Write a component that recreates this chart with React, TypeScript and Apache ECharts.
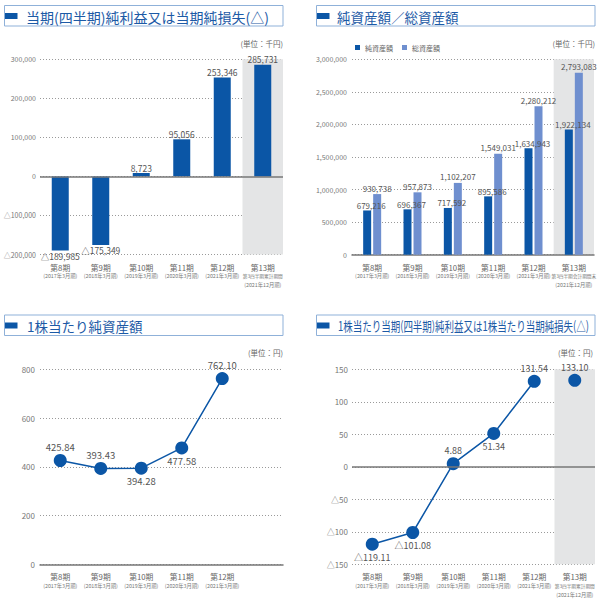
import React, { useEffect, useRef } from "react";
import * as echarts from "echarts";

// ---- data ----
const periods = ["第8期", "第9期", "第10期", "第11期", "第12期", "第13期"];
const fiscalYears = ["(2017年3月期)", "(2018年3月期)", "(2019年3月期)", "(2020年3月期)", "(2021年3月期)", "(2021年12月期)"];
const q3Cumulative = "第3四半期累計期間";
const q3PeriodEnd = "第3四半期会計期間末";

const netIncome = [-189985, -175349, 8723, 95056, 253346, 285731];
const netAssets = [679216, 696367, 717592, 895586, 1634943, 1922134];
const totalAssets = [930738, 957873, 1102207, 1549031, 2280212, 2793083];
const bookValuePerShare = [425.84, 393.43, 394.28, 477.58, 762.1];
const epsAnnual = [-119.11, -101.08, 4.88, 51.34, 131.54];
const epsQ3 = 133.1;

const bpsLabelPos = ["top", "top", "bottom", "bottom", "top"];
const epsLabelPos = ["bottom", "bottom", "top", "bottom", "top"];

// ---- style ----
const FONT = '"Noto Sans CJK JP", "Noto Sans", sans-serif';
const BLUE = "#0b56a6";
const LIGHT = "#6f8fcf";
const SHADE = "#e4e5e6";
const TITLE = "#1c5aa6";
const BOX = "#8fb1d9";
const TXT = "#555";
const AX = "#777";

const fmtInt = (v: number) => (v < 0 ? "△" : "") + Math.abs(v).toLocaleString("en-US");
const fmtDec = (v: number) => (v < 0 ? "△" : "") + Math.abs(v).toFixed(2);

const shadeColors = periods.map((_, i) => (i === periods.length - 1 ? SHADE : "rgba(0,0,0,0)"));

const xLabel = (lastSub: string | null) => (value: string, idx: number) => {
  if (idx === periods.length - 1) {
    if (lastSub === null) return "";
    return `{a|${value}}\n{c|${lastSub}}\n{b|${fiscalYears[idx]}}`;
  }
  return `{a|${value}}\n{b|${fiscalYears[idx]}}`;
};

const rich = {
  a: { fontSize: 7.8, color: "#666", lineHeight: 9, fontFamily: FONT },
  b: { fontSize: 5.3, color: "#777", lineHeight: 9, fontFamily: FONT },
  c: { fontSize: 4.7, color: "#777", lineHeight: 9, fontFamily: FONT },
};

const makeX = (gridIndex: number, lastSub: string | null, shade: boolean, showLine: boolean) => ({
  type: "category",
  gridIndex,
  data: periods,
  boundaryGap: true,
  axisTick: { show: false },
  axisLine: { show: showLine, onZero: false, lineStyle: { color: AX, width: 1.5 } },
  axisLabel: { interval: 0, margin: 8, formatter: xLabel(lastSub), rich, fontFamily: FONT },
  splitLine: { show: false },
  splitArea: { show: shade, interval: 0, areaStyle: { color: shadeColors } },
});

const makeY = (gridIndex: number, min: number, max: number, interval: number, fontSize: number, margin: number, fmt: (v: number) => string) => ({
  type: "value",
  gridIndex,
  min,
  max,
  interval,
  axisLine: { show: false },
  axisTick: { show: false },
  axisLabel: { fontSize, color: AX, margin, fontFamily: FONT, formatter: fmt },
  splitLine: { show: true, lineStyle: { color: "#9a9a9a", type: [1, 2], width: 1 } },
});

const zeroLine = {
  silent: true,
  symbol: ["none", "none"],
  label: { show: false },
  lineStyle: { color: AX, type: "solid", width: 1.5 },
  data: [{ yAxis: 0 }],
};

const titleBox = (x: number, y: number, w: number, h: number) => [
  { type: "rect", shape: { x, y, width: w, height: h }, style: { fill: "#fff", stroke: BOX, lineWidth: 1 }, z: 10 },
  { type: "rect", shape: { x: x + 0.5, y: y + 7.5, width: 12.5, height: 6 }, style: { fill: BLUE }, z: 11 },
];

const titleText = (text: string, x: number, y: number, fontSize: number, scaleX = 1) => ({
  type: "text",
  x,
  y,
  scaleX,
  z: 11,
  style: { text, x: 0, y: 0, fontSize, fontFamily: FONT, fill: TITLE, verticalAlign: "middle", align: "left" },
});

const unitText = (text: string, x: number, y: number) => ({
  type: "text",
  z: 11,
  style: { text, x, y, fontSize: 7.5, fontFamily: FONT, fill: "#666", align: "right", verticalAlign: "middle" },
});

const option: any = {
  animation: false,
  backgroundColor: "#fff",
  textStyle: { fontFamily: FONT },
  grid: [
    { left: 40, top: 59.3, width: 243, height: 195.2 },
    { left: 352, top: 59.3, width: 242, height: 195.4 },
    { left: 40, top: 369.3, width: 243, height: 195 },
    { left: 352, top: 369.3, width: 243, height: 195 },
  ],
  legend: {
    data: ["純資産額", "総資産額"],
    left: 350,
    top: 39,
    icon: "rect",
    itemWidth: 5,
    itemHeight: 5,
    itemGap: 9,
    textStyle: { fontSize: 7, color: "#666", fontFamily: FONT },
  },
  xAxis: [
    makeX(0, q3Cumulative, true, false),
    makeX(1, q3PeriodEnd, true, true),
    makeX(2, null, false, true),
    makeX(3, q3Cumulative, true, false),
  ],
  yAxis: [
    makeY(0, -200000, 300000, 100000, 7, 4, fmtInt),
    makeY(1, 0, 3000000, 500000, 7, 5, fmtInt),
    makeY(2, 0, 800, 200, 8, 5, (v: number) => String(v)),
    makeY(3, -150, 150, 50, 8, 4, (v: number) => (v < 0 ? "△" : "") + Math.abs(v)),
  ],
  series: [
    {
      type: "bar",
      name: "純利益",
      xAxisIndex: 0,
      yAxisIndex: 0,
      data: netIncome,
      barWidth: 17,
      itemStyle: { color: BLUE },
      label: { show: true, position: "outside", distance: 1, fontSize: 8.5, lineHeight: 9, color: TXT, fontFamily: FONT, formatter: (p: any) => fmtInt(p.value) },
      markLine: zeroLine,
    },
    {
      type: "bar",
      name: "純資産額",
      xAxisIndex: 1,
      yAxisIndex: 1,
      data: netAssets,
      barWidth: 8,
      barGap: "25%",
      itemStyle: { color: BLUE },
      label: { show: true, position: "top", distance: 1, offset: [4, 0], fontSize: 8, color: TXT, fontFamily: FONT, formatter: (p: any) => fmtInt(p.value) },
    },
    {
      type: "bar",
      name: "総資産額",
      xAxisIndex: 1,
      yAxisIndex: 1,
      data: totalAssets,
      barWidth: 8,
      barGap: "25%",
      itemStyle: { color: LIGHT },
      label: { show: true, position: "top", distance: 2, fontSize: 8, color: TXT, fontFamily: FONT, formatter: (p: any) => fmtInt(p.value) },
    },
    {
      type: "line",
      name: "1株当たり純資産額",
      xAxisIndex: 2,
      yAxisIndex: 2,
      data: bookValuePerShare.map((v, i) => ({ value: v, label: { position: bpsLabelPos[i] } })),
      symbol: "circle",
      symbolSize: 13,
      showSymbol: true,
      lineStyle: { color: BLUE, width: 1.5 },
      itemStyle: { color: BLUE },
      label: { show: true, distance: 2, fontSize: 9.5, color: TXT, fontFamily: FONT, formatter: (p: any) => fmtDec(p.value) },
    },
    {
      type: "line",
      name: "1株当たり純利益",
      xAxisIndex: 3,
      yAxisIndex: 3,
      data: epsAnnual.map((v, i) => ({ value: v, label: { position: epsLabelPos[i] } })),
      symbol: "circle",
      symbolSize: 13,
      showSymbol: true,
      lineStyle: { color: BLUE, width: 1.5 },
      itemStyle: { color: BLUE },
      label: { show: true, distance: 2, fontSize: 9, color: TXT, fontFamily: FONT, formatter: (p: any) => fmtDec(p.value) },
      markLine: zeroLine,
    },
    {
      type: "scatter",
      name: "1株当たり四半期純利益",
      xAxisIndex: 3,
      yAxisIndex: 3,
      data: [[periods[periods.length - 1], epsQ3]],
      symbol: "circle",
      symbolSize: 13,
      itemStyle: { color: BLUE, opacity: 1 },
      label: { show: true, position: "top", distance: 2, fontSize: 9, color: TXT, fontFamily: FONT, formatter: (p: any) => fmtDec(p.value[1]) },
    },
  ],
  graphic: [
    ...titleBox(4.5, 5.5, 278.5, 20.5),
    titleText("当期(四半期)純利益又は当期純損失(△)", 26, 16.5, 14),
    unitText("(単位：千円)", 283, 43),
    ...titleBox(316.5, 5.5, 278.5, 20.5),
    titleText("純資産額／総資産額", 337, 16.5, 13.5),
    unitText("(単位：千円)", 595, 43),
    ...titleBox(4.5, 315, 278.5, 20.5),
    titleText("1株当たり純資産額", 27, 325.5, 13.5),
    unitText("(単位：円)", 283, 352),
    ...titleBox(316.5, 315, 278.5, 20.5),
    titleText("1株当たり当期(四半期)純利益又は1株当たり当期純損失(△)", 338, 325.5, 13, 0.73),
    unitText("(単位：円)", 593, 352),
  ],
};

export default function App() {
  const ref = useRef<HTMLDivElement>(null);
  useEffect(() => {
    const chart = echarts.init(ref.current!, null, { renderer: "svg" });
    chart.setOption(option);
    return () => chart.dispose();
  }, []);
  return (
    <div
      ref={ref}
      style={{ position: "fixed", left: 0, top: 0, width: 613, height: 606, background: "#fff" }}
    />
  );
}
